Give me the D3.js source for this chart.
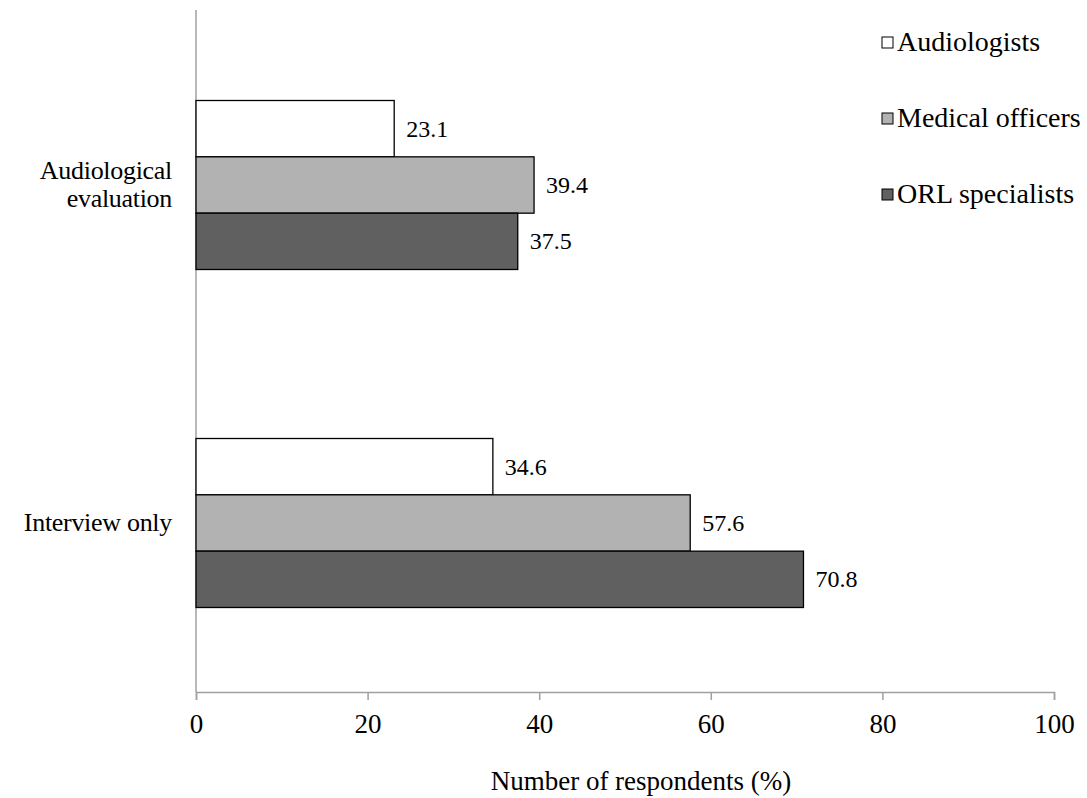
<!DOCTYPE html>
<html><head><meta charset="utf-8">
<script src="https://cdn.jsdelivr.net/npm/d3@7"></script>
<style>body{margin:0;background:#fff}svg{display:block}</style>
</head><body><div id="chart"></div>
<script>
const categories = ["Audiological evaluation", "Interview only"];
const categoryLines = [["Audiological", "evaluation"], ["Interview only"]];
const seriesNames = ["Audiologists", "Medical officers", "ORL specialists"];
const audiologists = [23.1, 34.6];
const medicalOfficers = [39.4, 57.6];
const orlSpecialists = [37.5, 70.8];
const xTicks = [0, 20, 40, 60, 80, 100];
const seriesColors = ["#ffffff", "#b2b2b2", "#606060"];

(function () {
const series = [audiologists, medicalOfficers, orlSpecialists];
const W = 1087, H = 798;
const FONT = '"Liberation Serif"';
const svg = d3.select("#chart").append("svg").attr("width", W).attr("height", H);
const txt = (sel) => sel.append("text").style("font-family", FONT).attr("fill", "#000");
const pLeft = 196, pRight = 1054, pTop = 16, pBottom = 692;

const x = d3.scaleLinear().domain([0, 100]).range([pLeft, pRight]);
const y = d3.scaleBand().domain(categories).range([pTop, pBottom]).paddingInner(0.5).paddingOuter(0.25);
const yInner = d3.scaleBand().domain(seriesNames).range([0, y.bandwidth()]);

const xAxis = svg.append("g").attr("transform", `translate(0,${pBottom})`)
  .call(d3.axisBottom(x).tickValues(xTicks).tickSize(8).tickPadding(13).tickFormat(d3.format("d")));
xAxis.select(".domain").attr("stroke", "#a0a0a0").attr("stroke-width", 1.5);
xAxis.selectAll(".tick line").attr("stroke", "#a0a0a0").attr("stroke-width", 1.5);
xAxis.selectAll(".tick text").style("font-family", FONT).attr("font-size", 27).attr("fill", "#000")
  .attr("dy", null).attr("y", 41);

svg.append("line").attr("x1", pLeft).attr("x2", pLeft).attr("y1", 10).attr("y2", pBottom)
  .attr("stroke", "#a0a0a0").attr("stroke-width", 1.5);

categories.forEach((c, ci) => {
  seriesNames.forEach((s, si) => {
    const v = series[si][ci];
    const y0 = y(c) + yInner(s);
    svg.append("rect").attr("x", x(0)).attr("y", y0)
      .attr("width", x(v) - x(0)).attr("height", yInner.bandwidth())
      .attr("fill", seriesColors[si]).attr("stroke", "#000").attr("stroke-width", 1.3);
    txt(svg).attr("x", x(v) + 12).attr("y", y0 + yInner.bandwidth() / 2 + 8)
      .attr("font-size", 24).text(v.toFixed(1));
  });
  const lines = categoryLines[ci];
  const cy = y(c) + y.bandwidth() / 2;
  lines.forEach((l, li) => {
    txt(svg).attr("x", 172).attr("text-anchor", "end")
      .attr("y", cy + (li - (lines.length - 1) / 2) * 28 + 8)
      .attr("font-size", 26).attr("letter-spacing", -0.3).text(l);
  });
});

const legY = [51, 127, 203];
seriesNames.forEach((s, i) => {
  svg.append("rect").attr("x", 882).attr("y", legY[i] - 14).attr("width", 11).attr("height", 11)
    .attr("fill", seriesColors[i]).attr("stroke", "#000").attr("stroke-width", 1);
  txt(svg).attr("x", 897).attr("y", legY[i]).attr("font-size", 28).text(s);
});

txt(svg).attr("x", (pLeft + pRight) / 2 + 16).attr("y", 790).attr("text-anchor", "middle")
  .attr("font-size", 27).text("Number of respondents (%)");
})();
</script></body></html>
